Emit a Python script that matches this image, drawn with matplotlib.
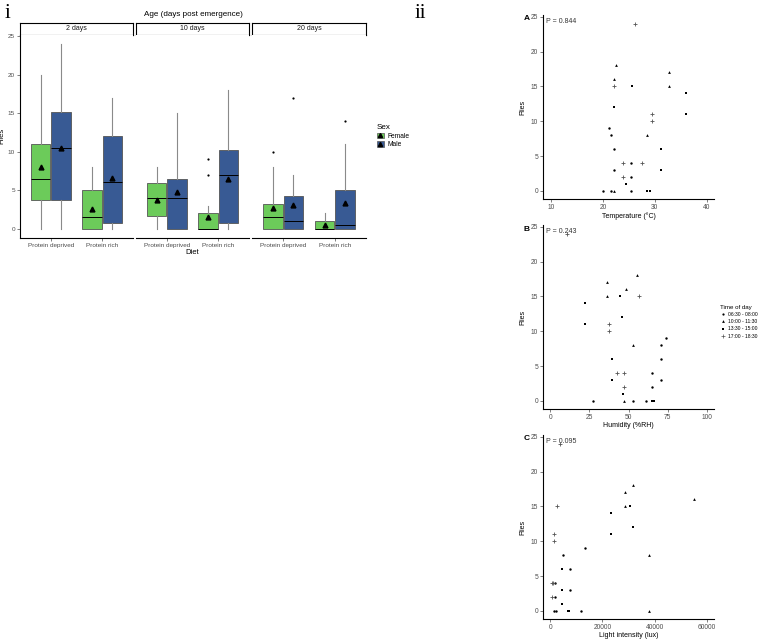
import matplotlib
matplotlib.use("Agg")
import matplotlib.pyplot as plt
from matplotlib.patches import Patch
from matplotlib.lines import Line2D
import numpy as np

plt.rcParams['font.family'] = ['Liberation Sans', 'DejaVu Sans']

W, H = 767, 639

# ---- panel i: box plot summaries (age x diet x sex) ----
ages = ['2 days', '10 days', '20 days']
diets = ['Protein deprived', 'Protein rich']
sexes = ['Female', 'Male']
sex_colors = ['#6CCB5A', '#385A94']

# order: age -> diet -> sex
q1 = [3.7, 3.7, 0, 0.75, 1.7, 0, 0, 0.75, 0, 0, 0, 0]
med = [6.5, 10.5, 1.5, 6.1, 4, 4, 0, 7, 1.5, 1, 0, 0.5]
q3 = [11, 15.2, 5, 12, 6, 6.5, 2, 10.25, 3.25, 4.2, 1, 5]
whis_lo = [0] * 12
whis_hi = [20, 24, 8, 17, 8, 15, 3, 18, 8, 7, 2, 11]
means = [8.0, 10.5, 2.6, 6.6, 3.7, 4.8, 1.5, 6.4, 2.7, 3.1, 0.5, 3.3]
outliers = [[], [], [], [], [], [], [7, 9], [], [10], [17], [], [14]]

# ---- panel ii: field observations ----
time_labels = ['06:30 - 08:00', '10:00 - 11:30', '13:30 - 15:00', '17:00 - 18:30']
flies = [24, 18, 17, 16, 15, 15, 15, 14, 12, 11, 11, 10, 9, 8, 8, 6, 6,
         4, 4, 4, 3, 3, 2, 2, 1, 0, 0, 0, 0, 0, 0]
time_idx = [3, 1, 1, 1, 1, 3, 2, 2, 2, 2, 3, 3, 0, 0, 1, 0, 2,
            3, 3, 0, 0, 2, 3, 0, 2, 0, 0, 1, 0, 2, 2]
temperature = [26.1, 22.6, 32.8, 22.2, 32.8, 22.2, 25.7, 36.0, 22.2, 36.0, 29.5, 29.5,
               21.1, 21.6, 28.5, 22.2, 31.2, 23.8, 27.6, 25.4, 22.2, 31.2, 23.8, 25.4,
               24.5, 20.1, 21.5, 22.2, 25.4, 28.5, 29.0]
humidity = [10.6, 55.5, 36.4, 48.7, 36.4, 57.0, 44.5, 22.1, 45.7, 22.1, 37.4, 37.4,
            73.8, 71.0, 52.6, 71.0, 39.6, 42.6, 47.4, 65.0, 71.0, 39.6, 47.4, 65.0,
            46.8, 27.4, 61.0, 47.4, 52.8, 65.3, 66.2]
light = [3800, 31900, 28700, 55300, 28700, 2600, 30400, 23200, 31700, 23200, 1300, 1300,
         13500, 4700, 37800, 7400, 4400, 600, 1000, 1700, 7400, 4400, 600, 1700,
         4400, 1500, 2200, 37800, 11800, 6700, 7200]
p_values = ['0.844', '0.243', '0.095']

tick_col = '#4D4D4D'


def ax_px(fig, left, top, right, bottom):
    return fig.add_axes([left / W, 1 - bottom / H, (right - left) / W, (bottom - top) / H])


fig = plt.figure(figsize=(W / 100, H / 100), dpi=100)

fig.text(5 / W, 1 - 14 / H, 'i', family='Liberation Serif', fontsize=15, va='center')
fig.text(415 / W, 1 - 14 / H, 'ii', family='Liberation Serif', fontsize=15, va='center')

# facets
facet_x = [(20, 133), (136, 249), (252, 366)]
fig.text(193 / W, 1 - 15 / H, 'Age (days post emergence)', fontsize=5.8, ha='center', va='center')
for a, age in enumerate(ages):
    l, r = facet_x[a]
    sax = ax_px(fig, l, 23, r, 34.5)
    sax.set_xticks([])
    sax.set_yticks([])
    for sp in sax.spines.values():
        sp.set_linewidth(0.8)
    sax.text(0.5, 0.5, age, ha='center', va='center', fontsize=5, color='#1A1A1A',
             transform=sax.transAxes)

    ax = ax_px(fig, l, 34.5, r, 238)
    stats, pos, cols = [], [], []
    for d in range(2):
        for s in range(2):
            k = a * 4 + d * 2 + s
            stats.append(dict(med=med[k], q1=q1[k], q3=q3[k], whislo=whis_lo[k],
                              whishi=whis_hi[k], fliers=outliers[k], mean=means[k]))
            pos.append(d + 1 + (s - 0.5) * 0.4)
            cols.append(sex_colors[s])
    bp = ax.bxp(stats, positions=pos, widths=0.38, patch_artist=True, showcaps=False,
                showmeans=True,
                boxprops=dict(edgecolor='#555555', linewidth=0.6),
                whiskerprops=dict(color='#8A8A8A', linewidth=0.8),
                medianprops=dict(color='black', linewidth=0.7),
                meanprops=dict(marker='^', markerfacecolor='black', markeredgecolor='black',
                               markersize=3.5),
                flierprops=dict(marker='o', markerfacecolor='black', markeredgecolor='none',
                                markersize=1.6))
    for patch, c in zip(bp['boxes'], cols):
        patch.set_facecolor(c)
    ax.set_xlim(0.4, 2.6)
    ax.set_ylim(-1.2, 25.2)
    ax.set_xticks([1, 2])
    ax.set_xticklabels(diets, fontsize=4.6, color=tick_col)
    for sp in ['top', 'right']:
        ax.spines[sp].set_visible(False)
    ax.spines['bottom'].set_linewidth(0.8)
    ax.tick_params(length=2, width=0.5, pad=1.5, colors=tick_col, labelcolor=tick_col)
    if a == 0:
        ax.set_yticks([0, 5, 10, 15, 20, 25])
        ax.tick_params(axis='y', labelsize=4.6)
        ax.spines['left'].set_linewidth(0.8)
        ax.set_ylabel('Flies', fontsize=5.5)
        ax.yaxis.set_label_coords(-0.125, 0.5)
    else:
        ax.spines['left'].set_visible(False)
        ax.set_yticks([])
    if a == 1:
        ax.set_xlabel('Diet', fontsize=5.5, labelpad=0.5)

sex_handles = [(Patch(facecolor=c, edgecolor='#555555', linewidth=0.5),
                Line2D([], [], marker='^', color='black', linestyle='none', markersize=3))
               for c in sex_colors]
leg = fig.legend(sex_handles, sexes, loc='upper left', bbox_to_anchor=(371 / W, 1 - 118 / H),
                 frameon=False, title='Sex', fontsize=4.8, title_fontsize=5.8,
                 handlelength=1.0, handleheight=0.9, handletextpad=0.5, labelspacing=0.25,
                 alignment='left')

# ---- panel ii scatter panels ----
markers = ['o', '^', 's', '+']
msizes = [3.0, 4.0, 4.5, 10]
mcols = ['black', 'black', 'black', '#555555']
xs_list = [temperature, humidity, light]
xlabels = ['Temperature (°C)', 'Humidity (%RH)', 'Light intensity (lux)']
xlims = [(8.46, 41.4), (-4.7, 104.7), (-2800, 62800)]
xticks = [[10, 20, 30, 40], [0, 25, 50, 75, 100], [0, 20000, 40000, 60000]]
tops = [15, 225, 435]
letters = ['A', 'B', 'C']

flies_a = np.array(flies)
tidx = np.array(time_idx)
for i in range(3):
    ax = ax_px(fig, 543, tops[i], 714, tops[i] + 184)
    xv = np.array(xs_list[i])
    for t in range(4):
        m = tidx == t
        if markers[t] == '+':
            ax.scatter(xv[m], flies_a[m], marker='+', s=msizes[t], color=mcols[t], linewidths=0.6)
        else:
            ax.scatter(xv[m], flies_a[m], marker=markers[t], s=msizes[t], color=mcols[t],
                       linewidths=0)
    ax.set_xlim(*xlims[i])
    ax.set_ylim(-1.15, 25.24)
    ax.set_xticks(xticks[i])
    ax.set_yticks([0, 5, 10, 15, 20, 25])
    for sp in ['top', 'right']:
        ax.spines[sp].set_visible(False)
    for sp in ['left', 'bottom']:
        ax.spines[sp].set_linewidth(0.8)
    ax.tick_params(length=2, width=0.5, pad=1.5, labelsize=4.8, colors=tick_col,
                   labelcolor=tick_col)
    ax.set_xlabel(xlabels[i], fontsize=5, labelpad=1)
    ax.set_ylabel('Flies', fontsize=5, labelpad=3)
    ax.text(0.015, 0.985, 'P = ' + p_values[i], transform=ax.transAxes, fontsize=5,
            va='top', ha='left', color='#333333')
    fig.text(524 / W, 1 - (tops[i] + 4) / H, letters[i], fontsize=6, fontweight='bold',
             va='center')

time_handles = [Line2D([], [], marker=markers[t], linestyle='none', color=mcols[t],
                       markersize=[1.6, 2.0, 2.0, 3.0][t], markeredgewidth=[0, 0, 0, 0.5][t])
                for t in range(4)]
fig.legend(time_handles, time_labels, loc='upper left', bbox_to_anchor=(716 / W, 1 - 300 / H),
           frameon=False, title='Time of day', fontsize=3.6, title_fontsize=4.4,
           handlelength=1.0, handletextpad=0.4, labelspacing=0.45, alignment='left')

fig.savefig('out.png', dpi=100)
